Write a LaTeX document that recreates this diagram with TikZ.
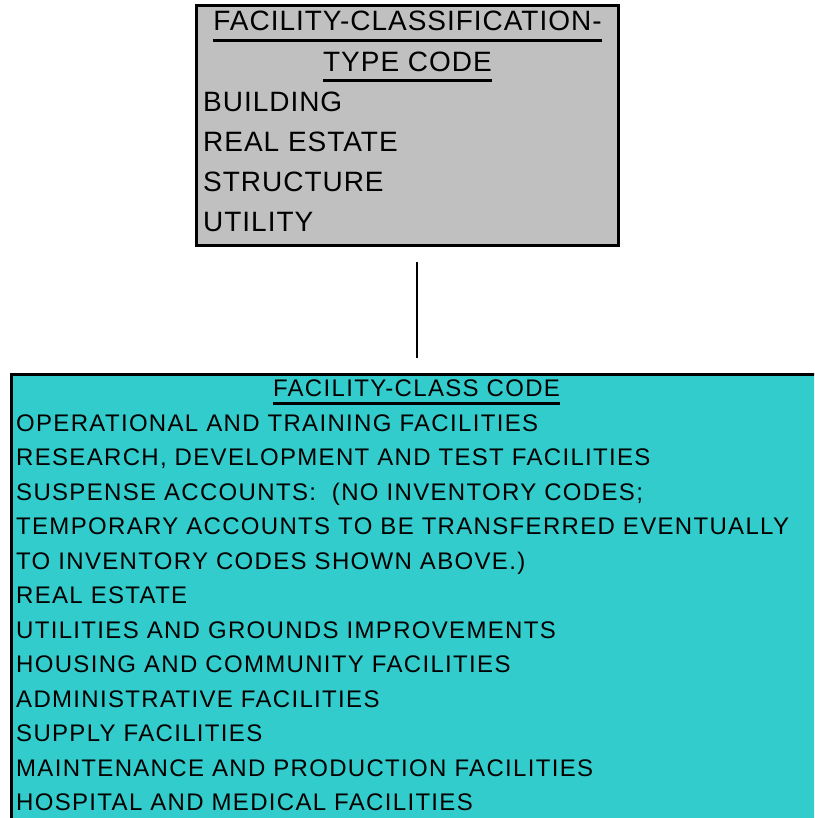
\documentclass[tikz,border=0pt]{standalone}
\usepackage{fontspec}
\setmainfont{Liberation Sans}
\newfontfamily\headfont{Liberation Sans}[LetterSpace=3.5]
\newfontfamily\listfont{Liberation Sans}[LetterSpace=5.5]
\definecolor{typegray}{HTML}{C0C0C0}
\definecolor{classcyan}{HTML}{33CCCC}
\begin{document}
\begin{tikzpicture}[x=1pt,y=-1pt,
  entitybox/.style={draw=black, line width=3pt, inner sep=0pt, outer sep=0pt},
  typetext/.style={inner sep=0pt, font=\headfont\fontsize{28}{34}\selectfont},
  classtext/.style={inner sep=0pt, font=\listfont\fontsize{24}{30}\selectfont},
  underbar/.style={line width=3pt},
  link/.style={line width=1.5pt}]
  \clip (0,0) rectangle (814,818);
  \fill[white] (0,0) rectangle (814,818);

  % facility-classification-type box
  \node (typebox) [entitybox, fill=typegray, minimum width=422pt, minimum height=239pt] at (407.5,125.5) {};
  \node (th1) [typetext, anchor=base] at (407.5,31) {FACILITY-CLASSIFICATION-};
  \node (th2) [typetext, anchor=base] at (407.5,72) {TYPE CODE};
  \draw[underbar] ([yshift=-10pt]th1.base west) -- ([yshift=-10pt]th1.base east);
  \draw[underbar] ([yshift=-9pt]th2.base west) -- ([yshift=-9pt]th2.base east);
  \foreach [count=\i] \t in {BUILDING, REAL ESTATE, STRUCTURE, UTILITY}
    \node (ty\i) [typetext, anchor=base west] at (203,{112+40*(\i-1)}) {\t};

  % facility-class box
  \node (classbox) [entitybox, fill=classcyan, minimum width=811pt, minimum height=470pt] at (417,609) {};
  \node (ch) [classtext, anchor=base] at (416.5,396.5) {FACILITY-CLASS CODE};
  \draw[underbar] ([yshift=-7pt]ch.base west) -- ([yshift=-7pt]ch.base east);
  \foreach [count=\i] \t in {
      {OPERATIONAL AND TRAINING FACILITIES},
      {RESEARCH, DEVELOPMENT AND TEST FACILITIES},
      {SUSPENSE ACCOUNTS:\ \ (NO INVENTORY CODES;},
      {TEMPORARY ACCOUNTS TO BE TRANSFERRED EVENTUALLY},
      {TO INVENTORY CODES SHOWN ABOVE.)},
      {REAL ESTATE},
      {UTILITIES AND GROUNDS IMPROVEMENTS},
      {HOUSING AND COMMUNITY FACILITIES},
      {ADMINISTRATIVE FACILITIES},
      {SUPPLY FACILITIES},
      {MAINTENANCE AND PRODUCTION FACILITIES},
      {HOSPITAL AND MEDICAL FACILITIES}}
    \node (cl\i) [classtext, anchor=base west] at (16,{431+34.5*(\i-1)}) {\t};

  % relationship line
  \draw[link, shorten <=16pt, shorten >=17pt] (classbox.north) -- (typebox.south -| classbox.north);
\end{tikzpicture}
\end{document}
